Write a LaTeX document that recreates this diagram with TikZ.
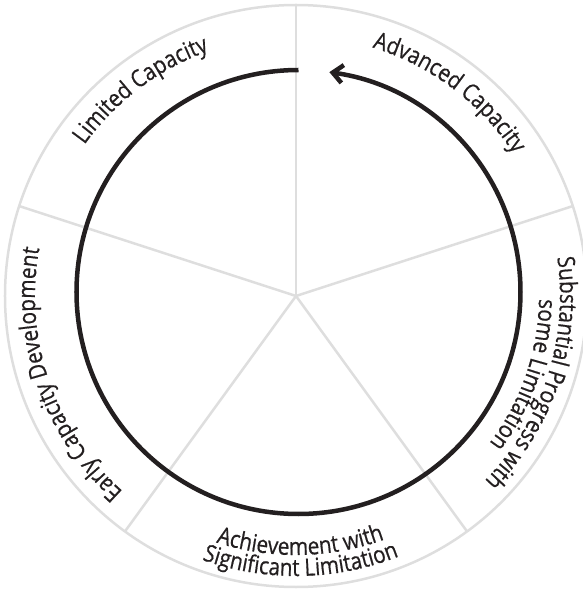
\documentclass[tikz,border=0pt]{standalone}
\usepackage{fontspec}
\setmainfont[FakeStretch=0.86,FakeBold=0.6]{Open Sans}
\usetikzlibrary{arrows.meta,decorations.text}

\definecolor{spoke}{RGB}{222,222,222}
\definecolor{ink}{RGB}{35,31,32}
\newcommand{\lblfont}{\fontsize{24}{24}\selectfont\color{ink}}

\begin{document}
\begin{tikzpicture}[x=1pt,y=1pt,
  ring/.style={spoke,line width=2.5pt},
  arclabel/.style={decorate,decoration={text along path,text align=center,text={|\lblfont|#1}}}]
\useasboundingbox (-296,-293) rectangle (286,296);

% wheel: rim and five spokes
\draw[ring] (0,0) circle (291);
\foreach \a in {18,90,162,234,306}
  \draw[ring] (0,0) -- (\a:291);

% cycle arrow
\draw[ink,line width=4.5pt,-{Straight Barb[length=10pt,width=18pt]}]
  (2.5,4) ++(90:222) arc[start angle=90,end angle=442,radius=222];

% sector labels
\path[arclabel=Advanced Capacity] (89:260) arc[start angle=89,end angle=17,radius=260];
\path[arclabel=Limited Capacity] (163:260) arc[start angle=163,end angle=91,radius=260];
\path[arclabel=Early Capacity Development] (235:261) arc[start angle=235,end angle=163,radius=261];

\path[arclabel=Substantial Progress with] (18:264) arc[start angle=18,end angle=-54,radius=264];
\path[arclabel=some Limitation] (17:243) arc[start angle=17,end angle=-55,radius=243];

\path[arclabel=Achievement with] (235:259) arc[start angle=235,end angle=307,radius=259];
\path[arclabel=Significant Limitation] (235:280) arc[start angle=235,end angle=307,radius=280];
\end{tikzpicture}
\end{document}
